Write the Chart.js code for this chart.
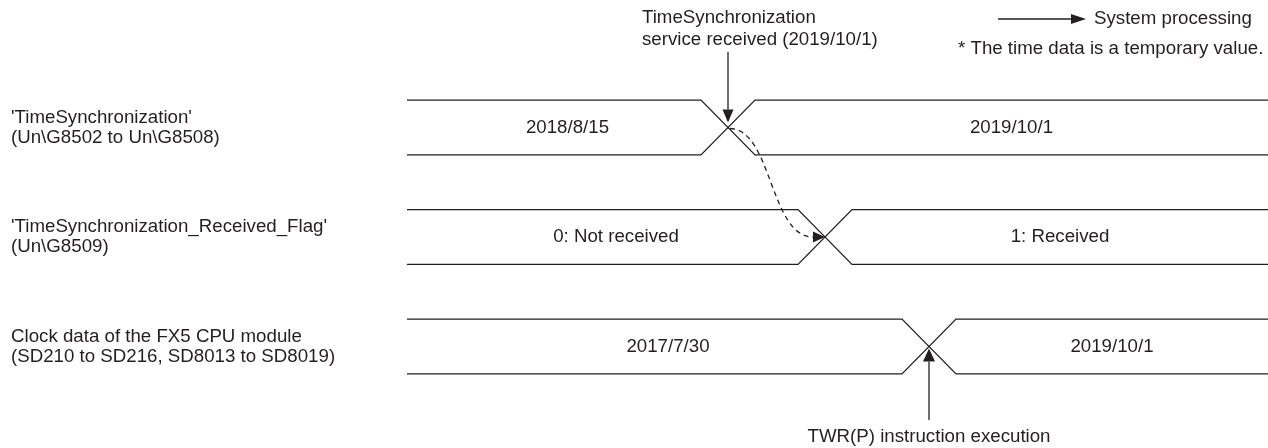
<!DOCTYPE html>
<html>
<head>
<meta charset="utf-8">
<script src="https://cdn.jsdelivr.net/npm/chart.js@4.4.0/dist/chart.umd.min.js"></script>
<style>
  html, body { margin:0; padding:0; background:#fff; }
  #wrap { width:1268px; height:448px; }
</style>
</head>
<body>
<div id="wrap"><canvas id="timing" width="1268" height="448"></canvas></div>
<script>
// ---- data ----
const signalNames = [
  ["'TimeSynchronization'", "(Un\\G8502 to Un\\G8508)"],
  ["'TimeSynchronization_Received_Flag'", "(Un\\G8509)"],
  ["Clock data of the FX5 CPU module", "(SD210 to SD216, SD8013 to SD8019)"]
];
const valuesBefore = ['2018/8/15', '0: Not received', '2017/7/30'];
const valuesAfter = ['2019/10/1', '1: Received', '2019/10/1'];
const transitionAt = [728, 825, 929];   // time of change for each row
const timeStart = 407;
const timeEnd = 1268;

const eventNote = ['TimeSynchronization', 'service received (2019/10/1)'];
const instrNote = 'TWR(P) instruction execution';
const legendNote = 'System processing';
const footNote = '* The time data is a temporary value.';

// ---- look ----
const INK = '#231f20';
const FONT = '18.7px "Liberation Sans", Arial, sans-serif';
const EDGE = 27;      // half width of the crossover (time units)
const LEVEL = 0.25;   // half height of a bus trace (row units)
const ROW_PX = 109.5, ROW0_PX = 127.5, H = 448;

function busTraces(){
  const sets = [];
  transitionAt.forEach((t, i) => {
    const hi = i - LEVEL, lo = i + LEVEL;
    const common = { showLine:true, pointRadius:0, borderColor:INK, borderWidth:1.3, fill:false, tension:0 };
    sets.push({ ...common, data:[{x:timeStart,y:hi},{x:t-EDGE,y:hi},{x:t+EDGE,y:lo},{x:timeEnd,y:lo}] });
    sets.push({ ...common, data:[{x:timeStart,y:lo},{x:t-EDGE,y:lo},{x:t+EDGE,y:hi},{x:timeEnd,y:hi}] });
  });
  return sets;
}

function arrow(ctx, x1, y1, x2, y2, len, w){
  const a = Math.atan2(y2 - y1, x2 - x1);
  const bx = x2 - Math.cos(a)*len, by = y2 - Math.sin(a)*len;
  ctx.beginPath(); ctx.moveTo(x1, y1); ctx.lineTo(bx, by); ctx.stroke();
  ctx.beginPath();
  ctx.moveTo(x2, y2);
  ctx.lineTo(bx + Math.sin(a)*w/2, by - Math.cos(a)*w/2);
  ctx.lineTo(bx - Math.sin(a)*w/2, by + Math.cos(a)*w/2);
  ctx.closePath(); ctx.fill();
}

const annotations = {
  id: 'annotations',
  afterDatasetsDraw(chart){
    const {ctx, scales:{x, y}} = chart;
    ctx.save();
    ctx.fillStyle = INK; ctx.strokeStyle = INK; ctx.lineWidth = 1.3;
    ctx.font = FONT;

    signalNames.forEach((lines, i) => {
      const cy = y.getPixelForValue(i);
      const t = transitionAt[i];
      ctx.textAlign = 'left'; ctx.textBaseline = 'alphabetic';
      ctx.fillText(lines[0], 11, cy - 5);
      ctx.fillText(lines[1], 11, cy + 15);
      ctx.textAlign = 'center'; ctx.textBaseline = 'middle';
      ctx.fillText(valuesBefore[i], x.getPixelForValue((timeStart + t)/2), cy);
      ctx.fillText(valuesAfter[i], x.getPixelForValue((t + EDGE + timeEnd)/2), cy);
    });
    ctx.textBaseline = 'alphabetic';

    // service received -> arrow down onto first change
    const x0 = x.getPixelForValue(transitionAt[0]), y0 = y.getPixelForValue(0);
    ctx.textAlign = 'left';
    ctx.fillText(eventNote[0], x0 - 86, 23);
    ctx.fillText(eventNote[1], x0 - 86, 45);
    arrow(ctx, x0, 52, x0, y0 - 5, 13, 11);

    // system processing: dashed curve from row 0 change to row 1 change
    const x1 = x.getPixelForValue(transitionAt[1]), y1 = y.getPixelForValue(1);
    ctx.setLineDash([5, 4]);
    ctx.beginPath();
    ctx.moveTo(x0 + 2, y0 + 1);
    ctx.bezierCurveTo(x0 + 44, y0 + 2, x0 + 42, y1, x1 - 12, y1);
    ctx.stroke();
    ctx.setLineDash([]);
    arrow(ctx, x1 - 12, y1, x1, y1, 12, 11);

    // TWR(P) arrow up onto third change
    const x2 = x.getPixelForValue(transitionAt[2]), y2 = y.getPixelForValue(2);
    arrow(ctx, x2, 420, x2, y2 + 2, 13, 12);
    ctx.textAlign = 'center';
    ctx.fillText(instrNote, x2, 442);

    // legend
    arrow(ctx, 998, 19, 1086, 19, 15, 10);
    ctx.textAlign = 'left';
    ctx.fillText(legendNote, 1094, 24);
    ctx.fillText(footNote, 958, 54);
    ctx.restore();
  }
};

new Chart(document.getElementById('timing'), {
  type: 'scatter',
  data: { datasets: busTraces() },
  options: {
    responsive: false,
    animation: false,
    layout: { padding: 0 },
    plugins: { legend: { display:false }, tooltip: { enabled:false } },
    scales: {
      x: { type:'linear', min:0, max:1268, display:false },
      y: { type:'linear', reverse:true, min:-ROW0_PX/ROW_PX, max:(H-ROW0_PX)/ROW_PX, display:false }
    }
  },
  plugins: [annotations]
});
</script>
</body>
</html>
